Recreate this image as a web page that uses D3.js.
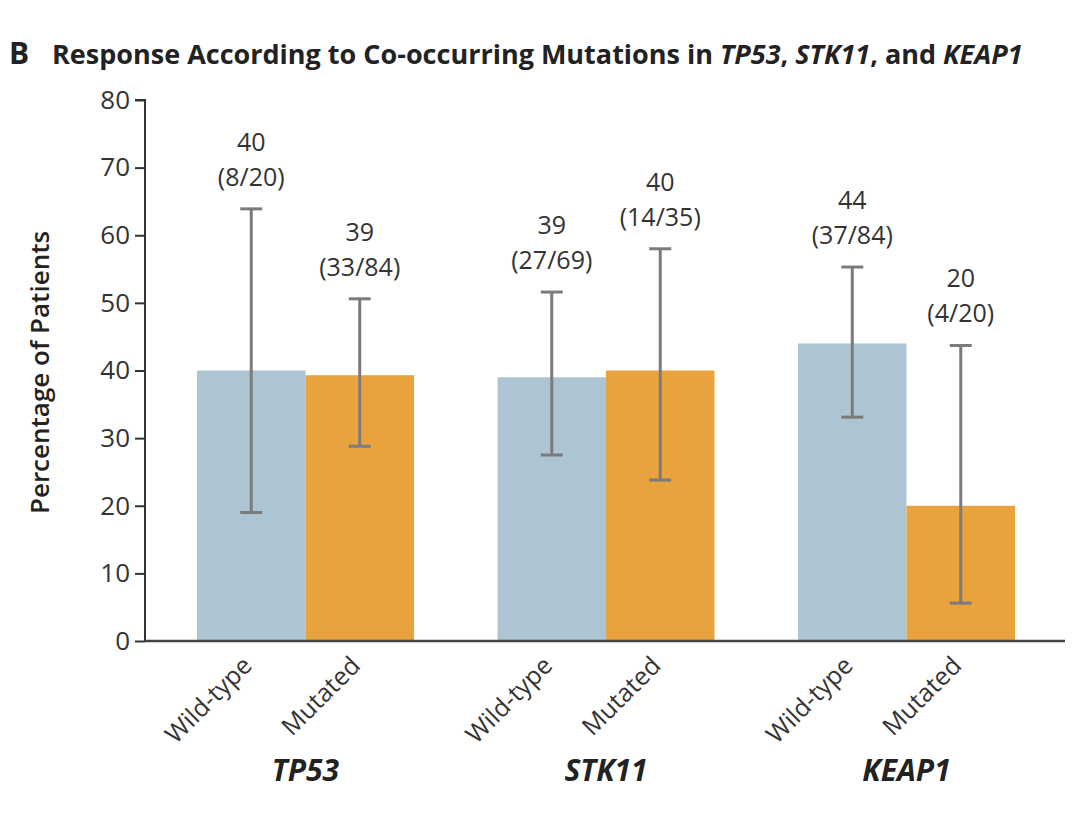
<!DOCTYPE html>
<html>
<head>
<meta charset="utf-8">
<script src="https://cdn.jsdelivr.net/npm/d3@7"></script>
<style>
  body { margin: 0; background: #fff; }
  svg { display: block; font-family: "Open Sans", sans-serif; }
</style>
</head>
<body>
<svg width="1080" height="831"></svg>
<script>
// data
let genes = ["TP53", "STK11", "KEAP1"];
let statuses = ["Wild-type", "Mutated"];
let values = [[40, 39.3], [39, 40], [44, 20]];
let ciLow = [[19, 28.8], [27.5, 23.8], [33.1, 5.6]];
let ciHigh = [[63.9, 50.6], [51.6, 58], [55.3, 43.7]];
let pctLabels = [["40", "39"], ["39", "40"], ["44", "20"]];
let countLabels = [["(8/20)", "(33/84)"], ["(27/69)", "(14/35)"], ["(37/84)", "(4/20)"]];
let yTicks = [0, 10, 20, 30, 40, 50, 60, 70, 80];

(function() {
    'use strict';
    let svg = d3.select("svg");
    let leftX = 145, rightX = 1065, topY = 100, bottomY = 641;
    let barColors = ["#adc5d2", "#e8a23e"];
    let textColor = "#333";

    let yScale = d3.scaleLinear().domain([0, 80]).range([bottomY, topY]);
    let xGroup = d3.scaleBand().domain(genes).range([leftX, 1067]).paddingInner(0.278).paddingOuter(0.173);
    let xInner = d3.scaleBand().domain(statuses).range([0, xGroup.bandwidth()]);

    // title
    let title = svg.append("text").attr("x", 9).attr("y", 64)
        .style("font-size", "27px").style("font-weight", "bold").attr("fill", "#222");
    title.append("tspan").text("B").style("font-size", "30px");
    title.append("tspan").attr("x", 52).text("Response According to Co-occurring Mutations in ");
    title.append("tspan").style("font-style", "italic").text("TP53");
    title.append("tspan").text(", ");
    title.append("tspan").style("font-style", "italic").text("STK11");
    title.append("tspan").text(", and ");
    title.append("tspan").style("font-style", "italic").text("KEAP1");

    // bars
    let rows = [];
    genes.forEach(function(g, i) {
        statuses.forEach(function(s, j) {
            rows.push({gene: g, status: s, j: j, v: values[i][j], lo: ciLow[i][j], hi: ciHigh[i][j],
                pct: pctLabels[i][j], cnt: countLabels[i][j]});
        });
    });

    svg.selectAll("rect.bar").data(rows).enter().append("rect")
        .attr("class", "bar")
        .attr("x", d => xGroup(d.gene) + xInner(d.status))
        .attr("width", xInner.bandwidth())
        .attr("y", d => yScale(d.v))
        .attr("height", d => yScale(0) - yScale(d.v))
        .attr("fill", d => barColors[d.j]);

    // error bars + labels
    let cx = d => xGroup(d.gene) + xInner(d.status) + xInner.bandwidth() / 2;
    let err = svg.append("g").attr("stroke", "#7b7b7b").attr("stroke-width", 3);
    rows.forEach(function(d) {
        let x = cx(d);
        err.append("line").attr("x1", x).attr("x2", x).attr("y1", yScale(d.lo)).attr("y2", yScale(d.hi));
        err.append("line").attr("x1", x - 11).attr("x2", x + 11).attr("y1", yScale(d.lo)).attr("y2", yScale(d.lo));
        err.append("line").attr("x1", x - 11).attr("x2", x + 11).attr("y1", yScale(d.hi)).attr("y2", yScale(d.hi));

        svg.append("text").attr("x", x).attr("y", yScale(d.hi) - 58)
            .attr("text-anchor", "middle").style("font-size", "25px").attr("fill", textColor).text(d.pct);
        svg.append("text").attr("x", x).attr("y", yScale(d.hi) - 23)
            .attr("text-anchor", "middle").style("font-size", "25px").attr("fill", textColor).text(d.cnt);
    });

    // y axis
    let yAxis = d3.axisLeft(yScale).tickValues(yTicks).tickSize(10).tickPadding(5);
    let yg = svg.append("g").attr("transform", `translate(${leftX},0)`).call(yAxis);
    yg.select(".domain").attr("stroke", textColor).attr("stroke-width", 2).attr("d", `M-10,${topY}H0V${bottomY}`);
    yg.selectAll(".tick line").attr("stroke", textColor).attr("stroke-width", 2);
    yg.selectAll(".tick text").style("font-size", "26px").attr("fill", textColor).style("font-family", "Open Sans");

    // x axis line
    svg.append("line").attr("x1", leftX).attr("x2", rightX).attr("y1", bottomY).attr("y2", bottomY)
        .attr("stroke", "#444").attr("stroke-width", 2.5);

    // y axis title
    svg.append("text")
        .attr("transform", `translate(49,${(topY + bottomY) / 2 + 2})rotate(-90)`)
        .attr("text-anchor", "middle").style("font-size", "26px").style("font-weight", "600")
        .attr("fill", "#222").text("Percentage of Patients");

    // category labels
    rows.forEach(function(d) {
        svg.append("text")
            .attr("transform", `translate(${cx(d) - 4},${bottomY + 20})rotate(-45)`)
            .attr("text-anchor", "end").attr("dy", "0.35em")
            .style("font-size", "25px").attr("fill", textColor).text(d.status);
    });

    // gene labels
    svg.selectAll("text.gene").data(genes).enter().append("text")
        .attr("class", "gene")
        .attr("x", d => xGroup(d) + xGroup.bandwidth() / 2)
        .attr("y", 781)
        .attr("text-anchor", "middle")
        .style("font-size", "30px").style("font-weight", "bold").style("font-style", "italic")
        .attr("fill", "#222").text(d => d);
})();
</script>
</body>
</html>
